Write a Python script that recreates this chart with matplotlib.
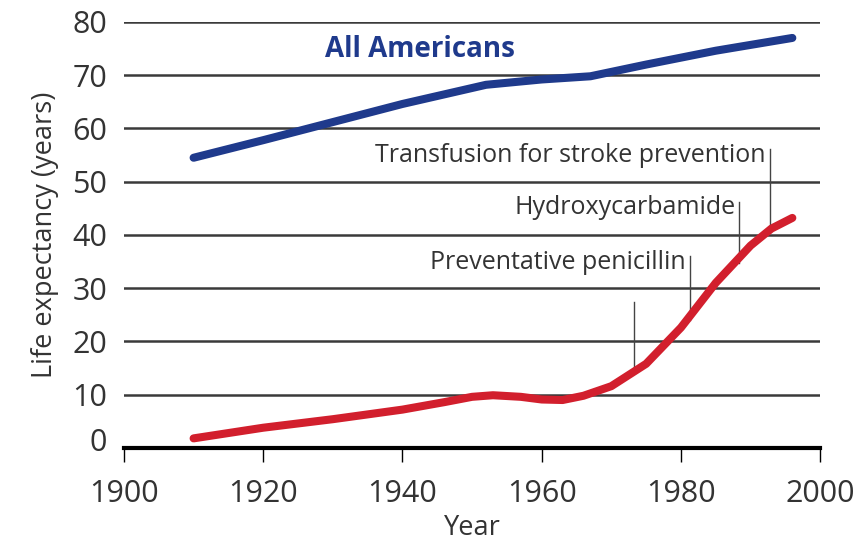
import matplotlib.pyplot as plt
from matplotlib.transforms import ScaledTranslation

# values
years_all = [1910, 1920, 1930, 1940, 1952, 1960, 1967, 1975, 1985, 1996]
life_all = [54.5, 57.8, 61.2, 64.6, 68.2, 69.2, 69.8, 72.0, 74.6, 77.0]

years_scd = [1910, 1920, 1930, 1940, 1946, 1950, 1953, 1957, 1960, 1963,
             1966, 1970, 1975, 1980, 1985, 1990, 1993, 1996]
life_scd = [1.8, 3.8, 5.4, 7.2, 8.6, 9.6, 9.9, 9.6, 9.1, 9.0,
            9.8, 11.6, 15.8, 22.6, 31.0, 38.0, 41.2, 43.2]

events = ["Preventative penicillin", "Hydroxycarbamide",
          "Transfusion for stroke prevention"]
event_years = [1981.3, 1988.4, 1992.8]
event_tops = [36.0, 46.2, 56.2]
event_bottoms = [24.0, 34.8, 41.0]
event_text_y = [34.8, 45.2, 55.0]

extra_year = 1973.3
extra_span = (15.0, 27.5)

blue = "#1f3a8c"
red = "#d21f2d"

fig = plt.figure(figsize=(8.67, 5.41), dpi=100)
ax = fig.add_axes([0.143, 0.172, 0.803, 0.7874])

ax.plot(years_all, life_all, color=blue, lw=5.8, solid_capstyle="round",
        solid_joinstyle="round", clip_on=False, zorder=3)
ax.plot(years_scd, life_scd, color=red, lw=5.8, solid_capstyle="round",
        solid_joinstyle="round", clip_on=False, zorder=3)

for name, yr, top, bot, ty in zip(events, event_years, event_tops,
                                  event_bottoms, event_text_y):
    ax.plot([yr, yr], [bot, top], color="#444444", lw=1, zorder=2)
    ax.text(yr - 0.6, ty, name, ha="right", va="center", fontsize=18,
            color="#333333", family="Open Sans")
ax.plot([extra_year, extra_year], extra_span, color="#444444", lw=1, zorder=2)

ax.text(1942.5, 74.8, "All Americans", ha="center", va="center",
        fontsize=20, fontweight="bold", color=blue, family="Open Sans")

ax.set_xlim(1900, 2000)
ax.set_ylim(0, 80)
ax.set_yticks(range(0, 81, 10))
ax.set_xticks(range(1900, 2001, 20))
for y in range(10, 81, 10):
    ax.axhline(y, color="#3a3a3a", lw=1.8, zorder=1)

for s in ["left", "right", "top"]:
    ax.spines[s].set_visible(False)
ax.spines["bottom"].set_linewidth(3)
ax.spines["bottom"].set_color("black")
ax.tick_params(axis="y", length=0, pad=12, labelsize=22, labelcolor="#333333")
ax.tick_params(axis="x", length=10, width=1, direction="out", pad=12,
               labelsize=22, labelcolor="#333333")
for lab in ax.get_xticklabels() + ax.get_yticklabels():
    lab.set_family("Open Sans")

fig.canvas.draw()
# the zero label sits a little above the axis line
zero_lab = ax.yaxis.get_major_ticks()[0].label1
zero_lab.set_transform(zero_lab.get_transform()
                       + ScaledTranslation(0, 6 / 72, fig.dpi_scale_trans))

ax.set_xlabel("Year", fontsize=19.5, color="#333333", family="Open Sans",
              labelpad=4)
ax.set_ylabel("Life expectancy (years)", fontsize=19.5, color="#333333",
              family="Open Sans", labelpad=10)

fig.savefig("out.png", dpi=100)
